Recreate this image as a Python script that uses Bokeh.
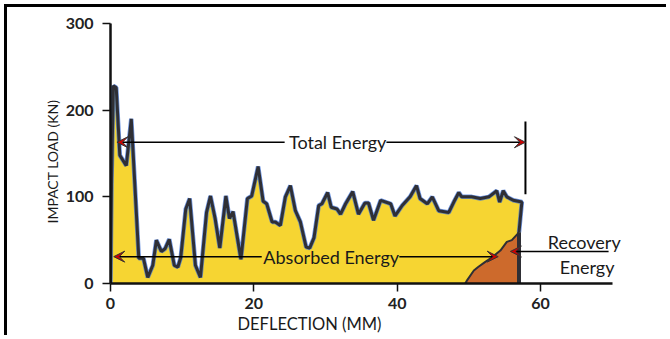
from bokeh.plotting import figure
from bokeh.models import Label, Arrow, VeeHead, FixedTicker, Range1d, Title
from bokeh.embed import file_html
from bokeh.resources import INLINE

# Impact load curve (deflection mm, load kN)
load_x = [0, 0.15, 0.4, 0.8, 1.3, 2.2, 2.9, 3.1, 3.95, 4.6, 5.2, 5.9, 6.4, 7.1, 7.6, 8.2,
          8.9, 9.4, 9.8, 10.5, 11.05, 11.85, 12.55, 13.4, 13.95, 14.6, 15.25, 16.1, 16.6,
          17.1, 18.2, 19.1, 19.7, 20.6, 21.3, 21.8, 22.55, 23.0, 23.7, 24.4, 25.1, 25.8,
          26.5, 27.3, 27.8, 28.4, 29.05, 29.5, 30.3, 30.8, 31.6, 32.1, 32.8, 33.8, 34.6,
          35.5, 36.0, 36.7, 37.7, 39.1, 39.7, 40.7, 41.8, 42.7, 43.2, 44.2, 44.9, 45.8,
          47.2, 47.9, 48.6, 49.0, 50.4, 51.6, 52.8, 53.9, 54.3, 54.8, 55.3, 56.2, 57.4,
          57.0, 57.0]
load_y = [0, 120, 228, 226, 148, 136, 190, 160, 29, 29, 7, 21, 50, 37, 40, 51,
          21, 19, 30, 86, 98, 21, 7, 82, 101, 75, 41, 101, 75,
          83, 28, 98, 101, 135, 95, 92, 71, 71, 67, 100, 113, 84,
          71, 42, 41, 53, 90, 92, 105, 88, 86, 80, 92, 106, 80,
          93, 93, 73, 96, 92, 78, 90, 100, 113, 98, 92, 100, 84,
          82, 94, 105, 100, 100, 98, 100, 107, 94, 107, 100, 96, 94,
          59, 0]

# Recovery (unloading) region
rec_x = [49.5, 49.7, 50.7, 51.3, 52.3, 53.2, 54.4, 55.3, 56.0, 57.0]
rec_y = [0, 3, 15, 19, 25, 30, 38, 48, 50, 59]

x_ticks = [0, 20, 40, 60]
y_ticks = [0, 100, 200, 300]

FONT = "Lato"
DARK = "#2f2f35"

p = figure(width=662, height=331, x_range=Range1d(0, 72), y_range=Range1d(0, 300),
           output_backend="svg", toolbar_location=None,
           min_border_left=103, min_border_right=43, min_border_top=16, min_border_bottom=55)
p.outline_line_color = None
p.grid.visible = False
p.border_fill_color = "white"
p.styles = {"border-top": "3px solid #000", "border-left": "3px solid #000",
            "margin-top": "4px", "margin-left": "4px"}

for ax in (p.xaxis[0], p.yaxis[0]):
    ax.axis_line_color = "#111"
    ax.axis_line_width = 2.5
    ax.major_tick_line_color = "#111"
    ax.major_tick_line_width = 1.5
    ax.major_tick_in = 0
    ax.major_tick_out = 8
    ax.minor_tick_line_color = None
    ax.major_label_text_font = FONT
    ax.major_label_text_font_style = "bold"
    ax.major_label_text_font_size = "16px"
    ax.major_label_text_color = "#222"
p.xaxis.ticker = FixedTicker(ticks=x_ticks)
p.yaxis.ticker = FixedTicker(ticks=y_ticks)
p.xaxis.bounds = (0, 70)
p.yaxis.major_label_standoff = 9
p.xaxis.major_label_standoff = 6

p.add_layout(Title(text="DEFLECTION (MM)", align="left", offset=127, standoff=0,
                   text_font=FONT, text_font_style="normal", text_font_size="16.5px",
                   text_color="#1a1a1a"), "below")
p.add_layout(Title(text="IMPACT LOAD (KN)", align="left", offset=60, standoff=4,
                   text_font=FONT, text_font_style="normal", text_font_size="14px",
                   text_color="#1a1a1a"), "left")

# areas
p.patch(load_x, load_y, fill_color="#F6D532", line_color=None)
p.patch(rec_x + [57.0], rec_y + [0], fill_color="#CD6A2C", line_color=None)
p.line(load_x[:-1], load_y[:-1], line_color="#3f73d8", line_width=4.5, line_alpha=0.75)
p.line(load_x[:-1], load_y[:-1], line_color=DARK, line_width=3)
p.line(rec_x, rec_y, line_color=DARK, line_width=2)
p.segment(x0=[57.0], y0=[0], x1=[57.0], y1=[59], line_color=DARK, line_width=4)

def arrow(x0, y0, x1, y1):
    p.add_layout(Arrow(end=VeeHead(size=11, fill_color="#d00000", line_color="#333", line_width=1),
                       x_start=x0, y_start=y0, x_end=x1, y_end=y1,
                       line_color="black", line_width=1.5))

# Total energy
arrow(24.3, 163, 0.9, 163)
arrow(38.5, 163, 57.9, 163)
p.segment(x0=[57.9], y0=[103], x1=[57.9], y1=[187], line_color="black", line_width=2)
# Absorbed energy
arrow(21.1, 31, 0.45, 31)
arrow(40.3, 31, 54.1, 31)
# Recovery energy
arrow(69.5, 37, 55.8, 37)

def label(x, y, text, size="18px"):
    p.add_layout(Label(x=x, y=y, text=text, text_font=FONT, text_font_size=size,
                       text_color="#1a1a1a", text_align="center", text_baseline="middle"))

label(31.7, 163, "Total Energy")
label(30.8, 31, "Absorbed Energy")
label(66.1, 48, "Recovery")
label(66.5, 19.5, "Energy")

open("out.html", "w").write(file_html(p, INLINE))
